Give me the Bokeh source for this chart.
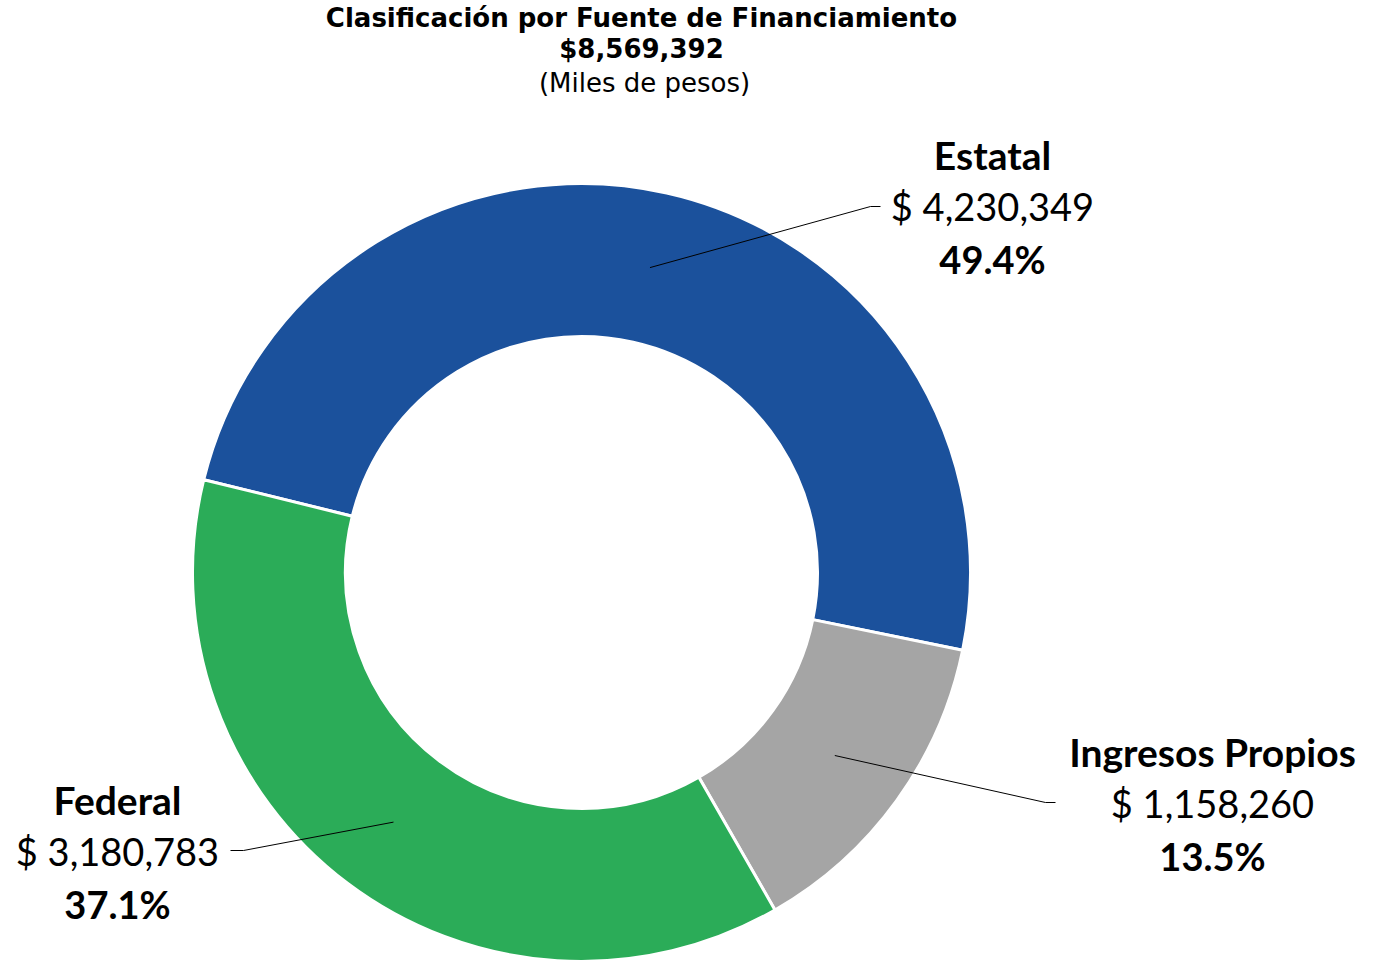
import math
from bokeh.plotting import figure
from bokeh.models import Range1d, ColumnDataSource
from bokeh.core.properties import value
from bokeh.embed import file_html
from bokeh.resources import INLINE

# ---- data ----
categories = ["Estatal", "Ingresos Propios", "Federal"]
amounts = [4230349, 1158260, 3180783]
colors = ["#1B519C", "#A5A5A5", "#2BAC58"]
title_lines = ["Clasificación por Fuente de Financiamiento", "$8,569,392", "(Miles de pesos)"]

total = sum(amounts)
fracs = [a / total for a in amounts]

W, H = 1370, 963
p = figure(width=W, height=H, output_backend="svg", toolbar_location=None,
           x_range=Range1d(0, W), y_range=Range1d(0, H),
           min_border=0, outline_line_color=None)
p.axis.visible = False
p.grid.visible = False
p.background_fill_color = "white"

def Y(sy):
    return H - sy

cx, cy = 581, Y(572)
r_in, r_out = 236, 389
start0 = math.radians(166.2)

starts, ends, mids = [], [], []
a = start0
for f in fracs:
    starts.append(a)
    e = a - f * 2 * math.pi
    ends.append(e)
    mids.append((a + e) / 2)
    a = e

src = ColumnDataSource(dict(start=starts, end=ends, color=colors, cat=categories))
p.annular_wedge(x=cx, y=cy, inner_radius=r_in, outer_radius=r_out,
                start_angle="start", end_angle="end", direction="clock",
                fill_color="color", line_color="white", line_width=3, source=src)

# leader lines
r_mid = (r_in + r_out) / 2
bends = [(870, 206, 880), (1045, 802, 1055), (243, 850, 230)]
for m, (bx, by, ex) in zip(mids, bends):
    sx = cx + r_mid * math.cos(m)
    sy = cy + r_mid * math.sin(m)
    p.line([sx, bx, ex], [sy, Y(by), Y(by)], line_color="black", line_width=1)

# labels
label_pos = [(992, 154), (1212, 751), (117, 799)]
font = value("Lato")
for cat, amt, f, (lx, ly) in zip(categories, amounts, fracs, label_pos):
    p.text(x=[lx], y=[Y(ly)], text=[cat], text_font=font, text_font_size="39px",
           text_font_style="bold", text_align="center", text_baseline="middle", text_color="black")
    p.text(x=[lx], y=[Y(ly + 51)], text=[f"$ {amt:,}"], text_font=font, text_font_size="38px",
           text_align="center", text_baseline="middle", text_color="black")
    p.text(x=[lx], y=[Y(ly + 104)], text=[f"{f*100:.1f}%"], text_font=font, text_font_size="38px",
           text_font_style="bold", text_align="center", text_baseline="middle", text_color="black")

# title
tfont = value("DejaVu Sans")
p.text(x=[641], y=[Y(17)], text=[title_lines[0]], text_font=tfont, text_font_size="26px",
       text_font_style="bold", text_align="center", text_baseline="middle", text_color="black")
p.text(x=[641], y=[Y(48)], text=[title_lines[1]], text_font=tfont, text_font_size="26px",
       text_font_style="bold", text_align="center", text_baseline="middle", text_color="black")
p.text(x=[644], y=[Y(82)], text=[title_lines[2]], text_font=tfont, text_font_size="26px",
       text_align="center", text_baseline="middle", text_color="black")

open("out.html", "w").write(file_html(p, INLINE))
